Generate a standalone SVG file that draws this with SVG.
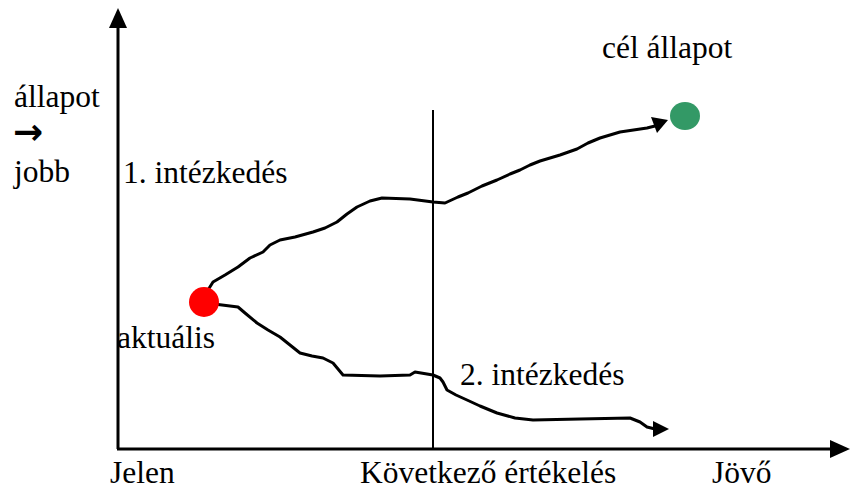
<svg xmlns="http://www.w3.org/2000/svg" width="850" height="492" viewBox="0 0 850 492">
<style>
.t{font-family:'Liberation Serif','Times New Roman',Times,serif;font-size:31.5px;fill:#000}
.ar{font-family:'DejaVu Sans',sans-serif;font-size:36px;font-weight:bold;fill:#000}
.ax{stroke:#000;stroke-width:3;fill:none}
.cv{stroke:#000;stroke-width:3;fill:none;stroke-linejoin:round;stroke-linecap:round}
</style>
<rect width="850" height="492" fill="#fff"/>
<g id="axes">
<line class="ax" x1="118" y1="449" x2="118" y2="26"/>
<path d="M109,28 L118,8 L127,28 z" fill="#000"/>
<line class="ax" x1="117" y1="449" x2="832" y2="449"/>
<path d="M830,440 L850,449 L830,458 z" fill="#000"/>
<line x1="433" y1="110" x2="433" y2="449" stroke="#000" stroke-width="2"/>
</g>
<g id="connectors">
<path class="cv" d="M208,290 L213,282 L225,275 L238,267 L250,258 L263,252 L270,245 L280,240 L295,237 L313,232 L325,228 L337,222 L347,214 L357,207 L370,201 L382,198 L410,199 L433,202 L445,203 L458,197 L468,193 L482,186 L497,180 L510,174 L520,170 L530,165 L540,161 L560,155 L577,149 L588,143 L600,138 L620,132 L647,128 L655,126"/>
<path d="M651,117 L668,120 L657,133 z" fill="#000"/>
<path class="cv" d="M206,303 L238,307 L245,313 L257,323 L268,330 L280,337 L290,345 L300,353 L312,356 L323,358 L333,363 L343,375 L380,376 L410,375 L415,372 L433,375 L440,378 L443,382 L447,390 L456,395 L467,400 L480,406 L497,413 L515,418 L533,420 L580,419 L630,418 L640,422 L647,427 L655,429"/>
<path d="M653,421 L669,429 L653,437 z" fill="#000"/>
</g>
<g id="aktualis">
<circle cx="204" cy="302" r="15" fill="#f00"/>
</g>
<g id="cel">
<ellipse cx="685" cy="116" rx="15" ry="14" fill="#339966"/>
</g>
<g id="labels">
<text class="t" x="14" y="107">állapot</text>
<text class="ar" x="13" y="144">→</text>
<text class="t" x="14" y="182">jobb</text>
<text class="t" x="123" y="183">1. intézkedés</text>
<text class="t" x="602" y="58">cél állapot</text>
<text class="t" x="117" y="348">aktuális</text>
<text class="t" x="460" y="385">2. intézkedés</text>
<text class="t" x="110" y="483">Jelen</text>
<text class="t" x="360" y="483">Következő értékelés</text>
<text class="t" x="712" y="483">Jövő</text>
</g>
</svg>
